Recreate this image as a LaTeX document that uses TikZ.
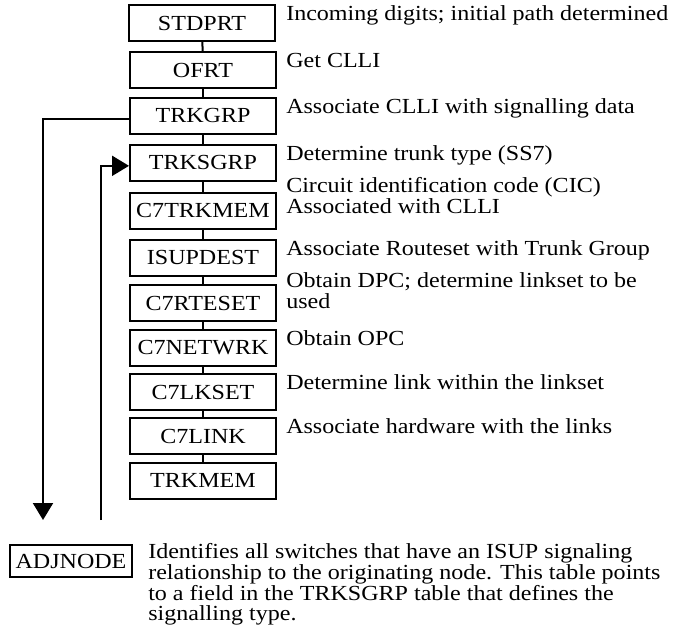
\documentclass[tikz,border=0pt]{standalone}
\usepackage{fontspec}
\setmainfont{Liberation Serif}[FakeStretch=1.12]
\usetikzlibrary{arrows.meta}
\begin{document}
\begin{tikzpicture}[x=0.75pt,y=-0.75pt,
  txt/.style={font=\fontsize{16.1}{15.75}\selectfont},
  tbl/.style={txt, draw, line width=1.5pt, minimum width=109.5pt,
    minimum height=27pt, inner sep=0pt},
  desc/.style={txt, anchor=base west, inner sep=0pt},
  descml/.style={txt, anchor=north west, inner sep=0pt, align=left},
  note/.style={descml, font=\fontsize{16.1}{14.6}\selectfont},
  link/.style={line width=1.5pt},
  arr/.style={line width=1.5pt, -{Triangle[length=12.75pt,width=15pt]}}]
\useasboundingbox (0,0) rectangle (680,625);

% table chain
\node[tbl] (stdprt)   at (202,23)    {STDPRT};
\node[tbl] (ofrt)     at (203,70)    {OFRT};
\node[tbl] (trkgrp)   at (203,115.5) {TRKGRP};
\node[tbl] (trksgrp)  at (203,162.5) {TRKSGRP};
\node[tbl] (c7trkmem) at (203,210.5) {C7TRKMEM};
\node[tbl] (isupdest) at (203,257.5) {ISUPDEST};
\node[tbl] (c7rteset) at (203,303)   {C7RTESET};
\node[tbl] (c7netwrk) at (203,348)   {C7NETWRK};
\node[tbl] (c7lkset)  at (203,392)   {C7LKSET};
\node[tbl] (c7link)   at (203,436)   {C7LINK};
\node[tbl] (trkmem)   at (203,480.5) {TRKMEM};

\node[tbl, minimum width=91.5pt, minimum height=24pt] (adjnode) at (71,561) {ADJNODE};

\foreach \a/\b in {stdprt/ofrt, ofrt/trkgrp, trkgrp/trksgrp, trksgrp/c7trkmem,
  c7trkmem/isupdest, isupdest/c7rteset, c7rteset/c7netwrk, c7netwrk/c7lkset,
  c7lkset/c7link, c7link/trkmem}
  \draw[link] (\a) -- (\b);

% descriptions
\node[desc]   (d1)  at (286,20.5)  {Incoming digits; initial path determined};
\node[desc]   (d2)  at (286,67.5)  {Get CLLI};
\node[desc]   (d3)  at (286,113)   {Associate CLLI with signalling data};
\node[desc]   (d4)  at (286,160)   {Determine trunk type (SS7)};
\node[descml] (d5)  at (286,177)   {Circuit identification code (CIC)\\Associated with CLLI};
\node[desc]   (d6)  at (286,255)   {Associate Routeset with Trunk Group};
\node[descml] (d7)  at (286,272)   {Obtain DPC; determine linkset to be\\used};
\node[desc]   (d8)  at (286,345.5) {Obtain OPC};
\node[desc]   (d9)  at (286,389.5) {Determine link within the linkset};
\node[desc]   (d10) at (286,433.5) {Associate hardware with the links};
\node[note]   (d11) at (148,543.5) {Identifies all switches that have an ISUP signaling\\
  relationship to the originating node. This table points\\
  to a field in the TRKSGRP table that defines the\\
  signalling type.};

% ADJNODE references
\coordinate (dnend)   at (43,520);
\coordinate (upstart) at (101,520);
\draw[arr] ([yshift=-2.5pt]trkgrp.west) -| (dnend);
\draw[arr] (upstart) |- ([yshift=-2.5pt]trksgrp.west);
\end{tikzpicture}
\end{document}
